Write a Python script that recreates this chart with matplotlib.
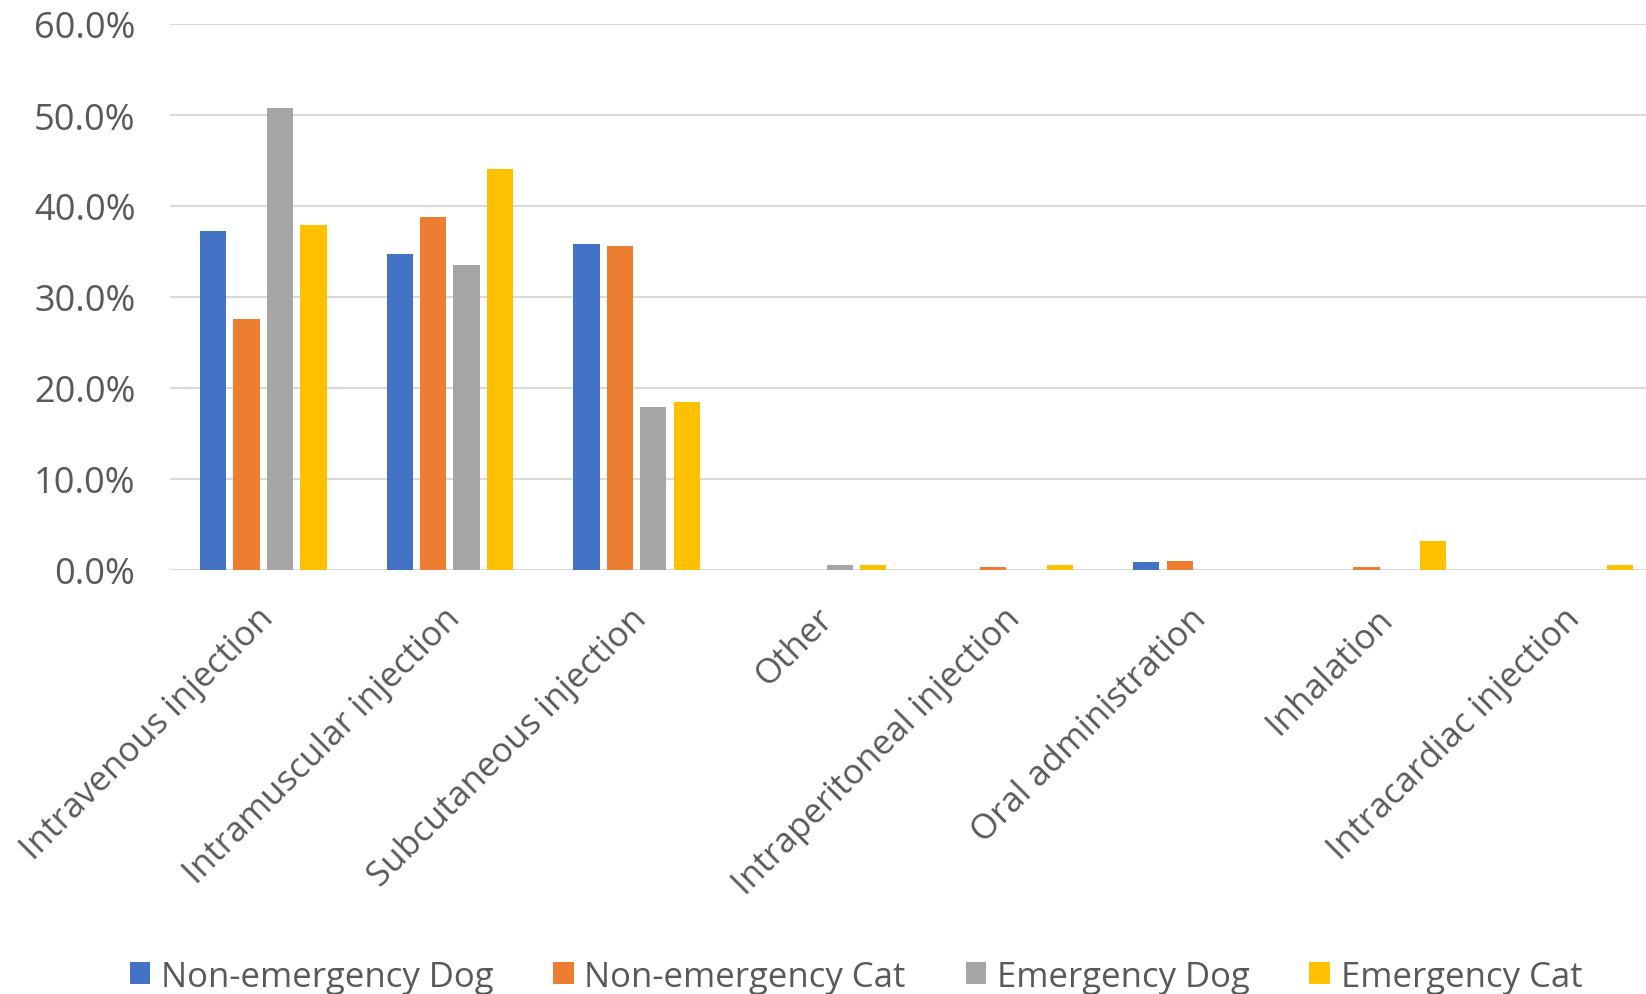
import numpy as np
import matplotlib
matplotlib.use("Agg")
from matplotlib import pyplot as plt
from matplotlib.transforms import ScaledTranslation

# Routes of administration and share of cases per group
routes = ["Intravenous injection", "Intramuscular injection", "Subcutaneous injection",
          "Other", "Intraperitoneal injection", "Oral administration",
          "Inhalation", "Intracardiac injection"]
non_emergency_dog = [0.373, 0.347, 0.358, 0.0, 0.0, 0.009, 0.0, 0.0]
non_emergency_cat = [0.276, 0.388, 0.356, 0.0, 0.003, 0.0095, 0.003, 0.0]
emergency_dog = [0.508, 0.335, 0.179, 0.006, 0.0, 0.0, 0.0, 0.0]
emergency_cat = [0.379, 0.441, 0.185, 0.006, 0.006, 0.0, 0.032, 0.006]

series_names = ["Non-emergency Dog", "Non-emergency Cat", "Emergency Dog", "Emergency Cat"]
colors = ["#4472C4", "#ED7D31", "#A5A5A5", "#FFC000"]

plt.rcParams['font.family'] = ['Open Sans', 'DejaVu Sans']
text_color = "#595959"
grid_color = "#D9D9D9"

fig = plt.figure(figsize=(16.46, 9.95), dpi=100)
# plot area runs a little past the right edge of the canvas
ax = fig.add_axes([170 / 1646, 1 - 571 / 995, 1493 / 1646, (571 - 25) / 995])

x = np.arange(len(routes))
step = 0.179
width = 0.141
all_series = [non_emergency_dog, non_emergency_cat, emergency_dog, emergency_cat]
for k, (vals, name, c) in enumerate(zip(all_series, series_names, colors)):
    ax.bar(x + (k - 1.5) * step, vals, width, color=c, label=name, zorder=3)

ax.set_xlim(-0.5, len(routes) - 0.5)
ax.set_ylim(0, 0.6)
ax.set_yticks(np.arange(0, 0.61, 0.1))
ax.set_yticklabels([f"{v * 100:.1f}%" for v in np.arange(0, 0.61, 0.1)])
ax.yaxis.grid(True, color=grid_color, linewidth=1.5, zorder=0)
ax.axhline(0, color=grid_color, linewidth=2, zorder=2)

for side in ["top", "right", "left", "bottom"]:
    ax.spines[side].set_visible(False)

ax.tick_params(axis="both", length=0, labelsize=25, colors=text_color)
ax.tick_params(axis="y", labelsize=26, pad=25)
ax.set_xticks(x)
ax.set_xticklabels(routes, rotation=45, ha="right", va="top", rotation_mode="anchor")
shift = ScaledTranslation(-7 / 100, -26 / 100, fig.dpi_scale_trans)
for lbl in ax.get_xticklabels():
    lbl.set_transform(lbl.get_transform() + shift)

fig.legend(loc="lower center", bbox_to_anchor=(0.52, -0.031), ncol=4, frameon=False,
           fontsize=25, labelcolor=text_color, handlelength=0.6, handleheight=0.6,
           handletextpad=0.3, columnspacing=1.72)

fig.savefig("out.png", dpi=100)
